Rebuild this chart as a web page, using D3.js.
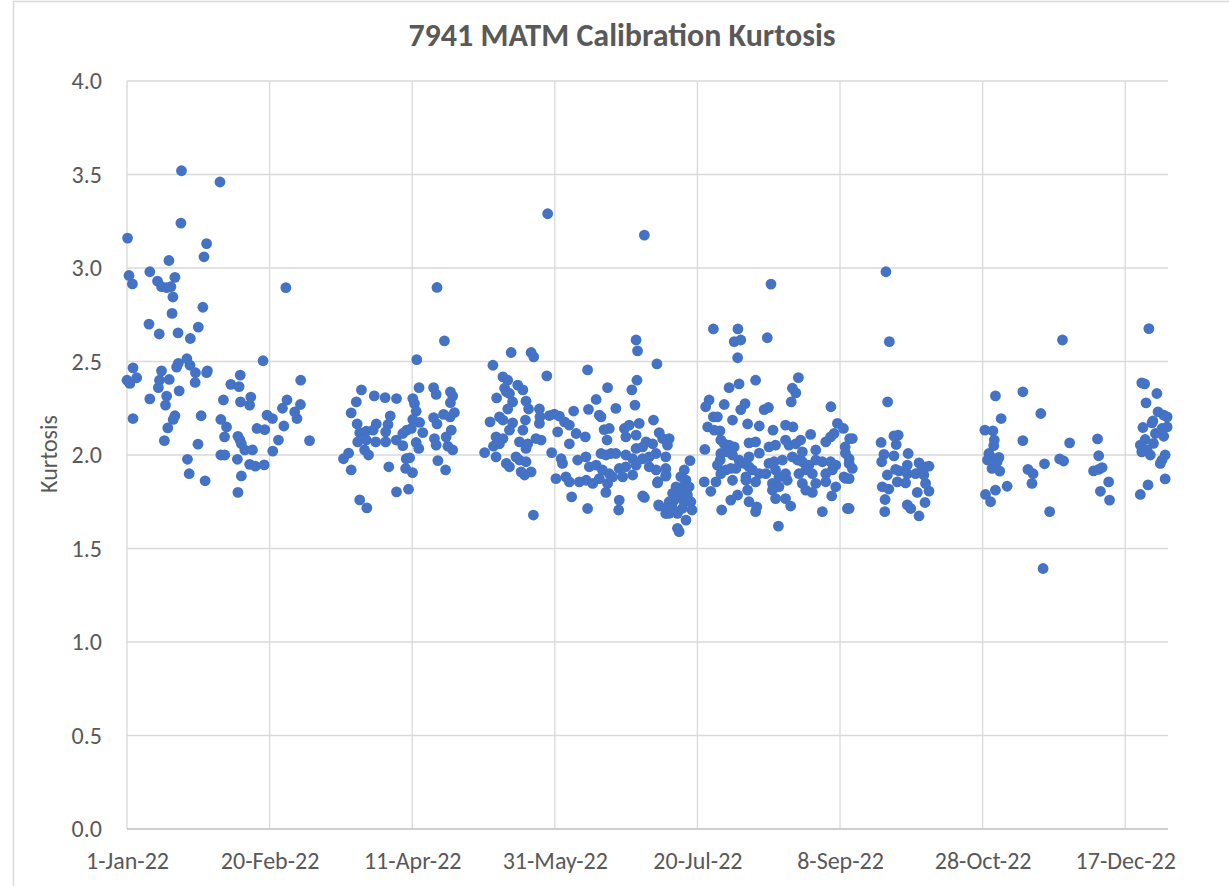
<!DOCTYPE html>
<html>
<head>
<meta charset="utf-8">
<script src="https://cdn.jsdelivr.net/npm/d3@7"></script>
<style>
  body { margin: 0; background: #fff; }
  text { font-family: Calibri, Carlito, "Open Sans", sans-serif; fill: #595959; }
  .grid line { stroke: #d9d9d9; stroke-width: 1.3; }
  .xAxis path, .yAxis path { display: none; }
  .xAxis line, .yAxis line { display: none; }
  .baseLine { stroke: #bfbfbf; stroke-width: 1.5; }
  .point { fill: #4472c4; }
</style>
</head>
<body>
<div id="chart"></div>
<script>
// values are [day of 2022 (0 = 1-Jan-22), kurtosis]
let janMar = [[19.1,3.52],[32.6,3.46],[18.9,3.24],[0.2,3.16],[27.9,3.13],[27,3.06],[14.7,3.04],[0.7,2.96],[8,2.98],[1.9,2.915],[10.7,2.93],[16.8,2.95],[12.1,2.90],[13.9,2.895],[15.4,2.90],[16.1,2.845],[26.6,2.79],[55.7,2.895],[15.8,2.757],[7.7,2.70],[11.3,2.647],[17.9,2.653],[25,2.684],[22.2,2.623],[47.7,2.504],[21,2.515],[18,2.49],[17.4,2.47],[22.1,2.48],[2.1,2.466],[12.1,2.45],[24,2.44],[28.2,2.45],[27.9,2.44],[39.7,2.427],[0,2.40],[1,2.383],[3.4,2.413],[11.4,2.40],[11,2.36],[14.8,2.404],[23.9,2.388],[18.3,2.343],[36.4,2.378],[39.3,2.366],[60.9,2.40],[8,2.30],[13.9,2.315],[13.5,2.267],[33.8,2.294],[39.8,2.284],[43,2.267],[43.4,2.31],[56.1,2.294],[54.5,2.25],[60.8,2.27],[58.8,2.23],[59.6,2.195],[2.1,2.195],[16.8,2.21],[16.2,2.19],[26,2.21],[32.9,2.19],[34.9,2.15],[49.1,2.213],[51,2.195],[55,2.155],[45.6,2.142],[48.3,2.136],[14.3,2.145],[34.2,2.097],[38.9,2.10],[39.6,2.08],[40.1,2.06],[13.1,2.077],[24.9,2.058],[53.1,2.08],[64,2.077],[41.3,2.027],[44,2.027],[51.1,2.021],[32.9,2.0],[34.3,2.0],[21.2,1.977],[38.7,1.977],[43,1.95],[45,1.94],[48.1,1.947],[21.8,1.90],[40.1,1.888],[27.4,1.862],[38.9,1.80]];

let marMay = [[108.7,2.896],[111.3,2.61],[101.6,2.51],[82.2,2.348],[102.4,2.36],[107.5,2.36],[108.4,2.324],[113.4,2.338],[114.2,2.315],[80.4,2.284],[86.7,2.316],[90.5,2.307],[94.5,2.302],[100.2,2.302],[100.8,2.275],[113.4,2.28],[78.6,2.225],[92.3,2.209],[101.4,2.234],[111,2.217],[113.3,2.204],[114.8,2.227],[80.7,2.166],[87.4,2.166],[91.5,2.163],[100.2,2.19],[102.6,2.174],[107.5,2.2],[108.7,2.166],[81.6,2.119],[83.9,2.127],[86.3,2.133],[90.7,2.124],[96.7,2.115],[98.1,2.133],[99.7,2.142],[103.7,2.12],[113.7,2.133],[80.9,2.07],[83.9,2.08],[87.2,2.07],[90.7,2.07],[94.4,2.08],[96.7,2.05],[101.4,2.067],[102.3,2.035],[107.8,2.088],[108.4,2.053],[111.9,2.097],[112.5,2.047],[114.2,2.027],[83.3,2.027],[84.7,2.0],[75.9,1.98],[77.7,2.01],[97.9,1.98],[99.1,1.985],[109,1.97],[78.6,1.92],[91.8,1.937],[97.7,1.928],[100.1,1.906],[111.7,1.92],[94.5,1.803],[98.7,1.817],[81.6,1.76],[84.1,1.717]];

let mayJul = [[147.5,3.29],[181.4,3.176],[178.5,2.615],[179,2.557],[134.7,2.548],[141.7,2.548],[142.6,2.525],[128.3,2.48],[185.8,2.487],[161.5,2.455],[147.2,2.423],[131.8,2.418],[133.5,2.40],[137,2.374],[138.8,2.348],[178.8,2.40],[168.5,2.36],[177,2.348],[132.4,2.357],[133,2.338],[129.6,2.305],[134.1,2.329],[135.2,2.284],[164.5,2.297],[178.1,2.267],[139.9,2.288],[140.8,2.246],[144.6,2.246],[133.5,2.246],[156.6,2.235],[161.8,2.244],[171.4,2.249],[165.6,2.213],[166.2,2.204],[148.1,2.211],[149.8,2.219],[151.6,2.208],[153.4,2.177],[184.6,2.187],[127.3,2.177],[130.6,2.204],[131.8,2.187],[135.2,2.172],[138.8,2.133],[139.7,2.187],[144.6,2.169],[144.8,2.204],[155.1,2.16],[157.5,2.115],[151,2.124],[167.3,2.136],[169.1,2.142],[174.4,2.142],[176.1,2.16],[179.6,2.169],[186.6,2.12],[129.4,2.097],[131.8,2.088],[134.1,2.133],[137.6,2.07],[140.5,2.06],[143.4,2.088],[145.2,2.08],[155.1,2.06],[160.7,2.097],[168.3,2.08],[174.9,2.097],[178.5,2.106],[182,2.07],[184.3,2.06],[187.8,2.088],[128.5,2.047],[130.6,2.06],[139.9,2.035],[178.5,2.035],[180.8,2.043],[125.4,2.013],[129.4,1.99],[148.9,2.013],[136.4,1.99],[137.6,1.973],[139.9,1.964],[152.2,1.98],[158,1.973],[160.9,1.99],[166.2,2.008],[167.9,2.0],[169.7,2.008],[171.4,2.008],[174.9,2.0],[177.3,1.98],[180.8,1.98],[183.1,1.99],[185.5,2.008],[188.9,1.99],[133,1.955],[134.1,1.937],[138.2,1.91],[139.4,1.893],[141.7,1.91],[152.7,1.955],[162.1,1.937],[164.5,1.946],[166.7,1.92],[169.1,1.90],[172.6,1.928],[174.9,1.937],[178.5,1.946],[183.1,1.937],[185.5,1.92],[188.9,1.928],[150.4,1.874],[153.9,1.883],[155.1,1.856],[158.6,1.856],[161,1.865],[163.3,1.848],[165.6,1.874],[168.5,1.848],[170.3,1.883],[173.8,1.883],[177.3,1.893],[186,1.851],[188.9,1.887],[167.9,1.80],[155.9,1.776],[172.6,1.759],[172.4,1.706],[180.8,1.781],[181.4,1.773],[161.5,1.714],[186.4,1.733],[142.5,1.679],[190.1,2.088],[189.5,2.053],[197.4,1.97],[195.4,1.92],[194.2,1.884],[196,1.866],[192.5,1.83],[194.8,1.83],[197.1,1.83],[191.3,1.795],[193.6,1.786],[196.5,1.786],[190.1,1.75],[191.9,1.759],[195.4,1.75],[197.7,1.75],[189,1.715],[191.3,1.715],[194.8,1.715],[198.1,1.706],[190.1,1.688],[193,1.688],[196,1.652],[193,1.608],[193.6,1.59],[186.6,1.727],[189,1.893],[186.1,1.857],[188.9,1.687]];

let julSep = [[225.8,2.914],[205.6,2.674],[214.2,2.674],[212.9,2.606],[215.2,2.615],[224.5,2.627],[214.1,2.52],[220.4,2.40],[235.4,2.414],[214.6,2.38],[211.1,2.36],[233.3,2.357],[234.5,2.332],[232.9,2.284],[204.1,2.294],[202.9,2.258],[209.4,2.27],[216.7,2.275],[215.2,2.243],[223.4,2.243],[224.9,2.254],[246.8,2.258],[205.6,2.204],[207,2.204],[212.3,2.187],[217.6,2.166],[221.7,2.155],[226.5,2.133],[230.9,2.16],[233.5,2.15],[239.7,2.11],[249.1,2.169],[251.2,2.142],[203.6,2.15],[205.9,2.133],[207.9,2.129],[208.2,2.08],[209.4,2.06],[211.1,2.053],[212.9,2.043],[218.1,2.065],[220.4,2.07],[225.1,2.043],[227.4,2.053],[230.9,2.08],[232.1,2.053],[234.5,2.06],[236.2,2.08],[245,2.07],[246.7,2.097],[247.9,2.115],[253.4,2.088],[251.8,2.043],[202.6,2.03],[208.2,2.008],[210.5,2.017],[212.3,2.0],[221.7,2.01],[218.1,1.99],[236.8,2.017],[241.5,2.027],[233.3,1.99],[235.1,1.973],[251.9,2.01],[253.2,1.98],[208,1.973],[207,1.946],[214.6,1.973],[216.4,1.955],[218.1,1.937],[225.1,1.955],[226.9,1.964],[229.8,1.973],[236.8,1.964],[239.1,1.946],[241.5,1.973],[243.8,1.964],[246.7,1.964],[248.5,1.946],[253.2,1.955],[208.2,1.90],[210,1.92],[211.7,1.928],[213.5,1.928],[219.3,1.92],[217,1.883],[221.7,1.90],[224,1.90],[227.4,1.92],[228.6,1.883],[230.9,1.90],[235.6,1.90],[238,1.92],[240.3,1.90],[245,1.90],[247.3,1.92],[251.4,1.883],[202.4,1.856],[206.5,1.856],[212.3,1.865],[217,1.865],[220.4,1.856],[226.3,1.848],[228.6,1.83],[231.5,1.865],[236.8,1.848],[238,1.812],[241.5,1.848],[245,1.857],[248.5,1.83],[252,1.875],[204.7,1.806],[211.7,1.759],[214.1,1.786],[217.6,1.812],[226.3,1.812],[227.4,1.767],[230.9,1.767],[232.7,1.727],[218.1,1.75],[220.8,1.723],[220.4,1.697],[208.5,1.706],[240.3,1.80],[243.8,1.697],[247.1,1.781],[252.6,1.714],[228.4,1.62],[254.3,2.088],[254.3,1.928],[253.2,1.874],[253.2,1.714]];

let sepOct = [[266.1,2.98],[267.3,2.606],[266.7,2.284],[264.4,2.067],[268.9,2.102],[270.4,2.106],[269.7,2.056],[265.4,2.003],[264.6,1.964],[268.9,1.995],[273.9,2.008],[266.6,1.893],[269.5,1.923],[270.7,1.915],[273.6,1.946],[273.6,1.90],[277.7,1.958],[278.3,1.91],[280,1.937],[281.2,1.94],[276.5,1.90],[279.4,1.893],[264.8,1.83],[267.1,1.818],[270.1,1.856],[273,1.851],[280,1.848],[281.2,1.807],[277.1,1.80],[265.8,1.762],[265.7,1.697],[273.6,1.733],[274.8,1.714],[279.8,1.746],[277.7,1.674]];

let octDec = [[304.5,2.316],[306.5,2.195],[300.8,2.133],[303.6,2.129],[304.1,2.08],[303.9,2.05],[302.2,2.008],[302.8,1.99],[305.7,1.987],[301.7,1.973],[303.3,1.928],[306,1.914],[305.1,1.964],[304.5,1.812],[308.6,1.833],[301,1.789],[302.8,1.75],[314.1,2.338],[320.4,2.222],[328,2.615],[314.1,2.077],[315.9,1.923],[317.7,1.90],[317.3,1.848],[321.7,1.953],[327,1.979],[328.4,1.968],[330.5,2.065],[323.5,1.697],[321.2,1.393],[340.3,2.086],[340.7,1.996],[338.9,1.915],[340.7,1.923],[341.9,1.933],[344.2,1.856],[341.3,1.806],[344.5,1.759]];

let lateDec = [[358.3,2.676],[355.8,2.386],[356.8,2.38],[361.1,2.329],[357.3,2.279],[361.5,2.231],[363.5,2.213],[364.7,2.204],[359.7,2.182],[359.4,2.172],[356.2,2.147],[364.7,2.15],[360.6,2.115],[362.9,2.142],[363.5,2.10],[357,2.083],[359.9,2.062],[355.3,2.053],[355.8,2.017],[357.6,2.027],[358.8,2.0],[364,2.0],[362.9,1.973],[362.3,1.955],[364,1.872],[358,1.84],[355.3,1.789]];

let xTickLabels = ["1-Jan-22", "20-Feb-22", "11-Apr-22", "31-May-22", "20-Jul-22", "8-Sep-22", "28-Oct-22", "17-Dec-22"];
let yTicks = [0, 0.5, 1, 1.5, 2, 2.5, 3, 3.5, 4];

/** Scatter chart of the daily kurtosis values */
class KurtosisChart {

    constructor(){
        this.width = 1229;
        this.height = 886;
        this.margin = {top: 81, right: 61, bottom: 57, left: 127};
        this.plotWidth = this.width - this.margin.left - this.margin.right;
        this.plotHeight = this.height - this.margin.top - this.margin.bottom;

        this.svg = d3.select("#chart").append("svg")
            .attr("width", this.width)
            .attr("height", this.height);

        // chart area frame
        this.svg.append("rect")
            .attr("x", 13.5).attr("y", 1.5)
            .attr("width", 1400).attr("height", 1000)
            .attr("fill", "#fff")
            .attr("stroke", "#d9d9d9")
            .attr("stroke-width", 1.5);
    }

    update(points){
        let _this = this;
        let start = new Date(Date.UTC(2022, 0, 1));
        let parseTick = d3.utcParse("%d-%b-%y");
        let toDate = d => new Date(start.getTime() + d * 864e5);

        let x = d3.scaleUtc()
            .domain([start, new Date(Date.UTC(2023, 0, 1))])
            .range([0, _this.plotWidth]);
        let y = d3.scaleLinear()
            .domain([0, 4])
            .range([_this.plotHeight, 0]);

        let g = _this.svg.append("g")
            .attr("transform", "translate(" + _this.margin.left + "," + _this.margin.top + ")");

        let tickDates = xTickLabels.map(s => parseTick(s));

        // gridlines
        g.append("g").attr("class", "grid")
            .selectAll("line").data(yTicks.slice(1)).enter().append("line")
            .attr("x1", 0).attr("x2", _this.plotWidth)
            .attr("y1", d => y(d)).attr("y2", d => y(d));
        g.append("g").attr("class", "grid")
            .selectAll("line").data(tickDates).enter().append("line")
            .attr("x1", d => x(d)).attr("x2", d => x(d))
            .attr("y1", 0).attr("y2", _this.plotHeight);

        g.append("line").attr("class", "baseLine")
            .attr("x1", 0).attr("x2", _this.plotWidth)
            .attr("y1", _this.plotHeight).attr("y2", _this.plotHeight);

        // axes
        let xAxis = g.append("g").attr("class", "xAxis")
            .attr("transform", "translate(0," + _this.plotHeight + ")")
            .call(d3.axisBottom(x).tickValues(tickDates).tickFormat(d3.utcFormat("%-d-%b-%y")).tickSize(0).tickPadding(40));
        xAxis.selectAll("text").attr("font-size", 24).attr("dy", 0).attr("fill", "#595959");

        let yAxis = g.append("g").attr("class", "yAxis")
            .call(d3.axisLeft(y).tickValues(yTicks).tickFormat(d3.format(".1f")).tickSize(0).tickPadding(25));
        yAxis.selectAll("text").attr("font-size", 24).attr("dy", "0.33em").attr("fill", "#595959");

        // points
        g.selectAll(".point").data(points).enter().append("circle")
            .attr("class", "point")
            .attr("cx", d => x(toDate(d[0])))
            .attr("cy", d => y(d[1]))
            .attr("r", 5.4);

        // titles
        _this.svg.append("text")
            .attr("x", 622).attr("y", 46)
            .attr("text-anchor", "middle")
            .attr("font-size", 32).attr("font-weight", "bold")
            .text("7941 MATM Calibration Kurtosis");

        _this.svg.append("text")
            .attr("transform", "translate(57,454) rotate(-90)")
            .attr("text-anchor", "middle")
            .attr("font-size", 24)
            .text("Kurtosis");
    }
}

let chart = new KurtosisChart();
chart.update([].concat(janMar, marMay, mayJul, julSep, sepOct, octDec, lateDec));
</script>
</body>
</html>
